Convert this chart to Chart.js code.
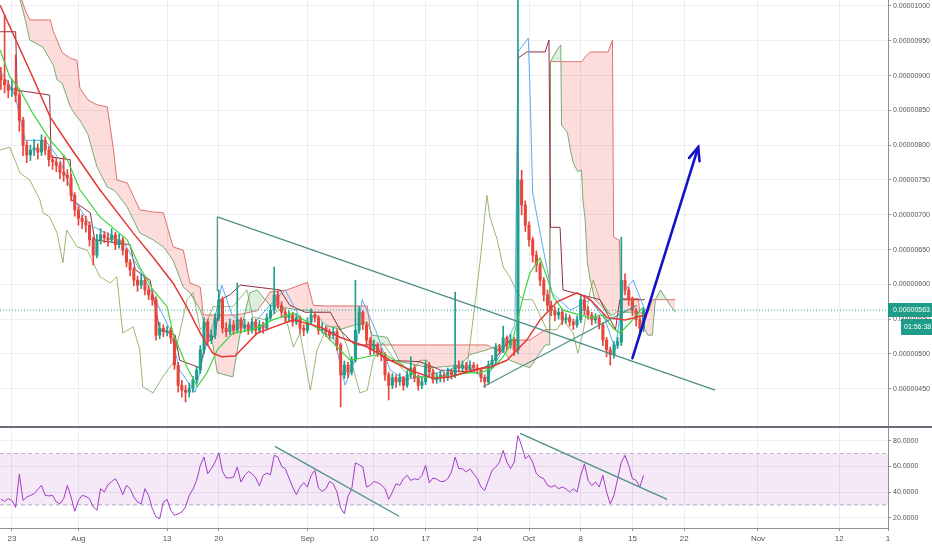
<!DOCTYPE html>
<html>
<head>
<meta charset="utf-8">
<script src="https://cdn.jsdelivr.net/npm/chart.js@4.4.1/dist/chart.umd.min.js"></script>
<style>
  html, body { margin: 0; padding: 0; background: #fff; }
  #wrap { position: relative; width: 932px; height: 550px; overflow: hidden; }
  #priceCanvas { position: absolute; left: 0; top: 0; }
  #rsiCanvas { position: absolute; left: 0; top: 427px; }
  #sep { position: absolute; left: 0; top: 426px; width: 932px; height: 2px; background: #6b6e76; }
</style>
</head>
<body>
<div id="wrap">
  <canvas id="priceCanvas" width="932" height="427"></canvas>
  <canvas id="rsiCanvas" width="932" height="123"></canvas>
  <div id="sep"></div>
</div>
<script>
// prices are in units of 1e-8 (563 -> 0.00000563), days count from Jul 23
const tickDays = [0, 9, 21, 28, 40, 49, 56, 63, 70, 77, 84, 91, 101, 112, 118.6];
const tickLabels = ['23', 'Aug', '13', '20', 'Sep', '10', '17', '24', 'Oct', '8', '15', '22', 'Nov', '12', '1'];
const priceTicks = [450, 500, 550, 600, 650, 700, 750, 800, 850, 900, 950, 1000];
const rsiTicks = [20, 40, 60, 80];
const lastPrice = 563;
const countdown = '01:56:38';

// 12h candles, first one at Jul 21 12:00
const firstCandleDay = -1.5;
const candleStep = 0.5;
const firstOpen = 900;
const closes = [894,887,879,882,872,836,800,786,793,796, 790,807,793,779,776,771,761,757,753,728,
  707,695,690,685,664,642,664,671,667,664, 671,657,664,649,632,621,606,599,606,592,
  585,578,527,537,532,534,523,484,455,448, 445,451,463,477,506,546,520,527,552,578,
  537,532,542,534,549,537,542,534,546,534, 542,537,552,563,585,570,560,552,556,546,
  552,537,534,546,556,552,534,537,532,527, 532,513,470,484,474,491,534,560,542,520,
  506,513,503,499,470,455,466,460,466,455, 470,480,466,455,460,484,474,463,466,470,
  466,474,470,484,480,484,477,484,480,477, 466,460,484,491,509,506,523,513,520,506,
  750,714,685,664,642,628,606,585,570,563, 556,560,549,552,546,542,549,578,563,556,
  549,552,542,520,506,499,513,517,606,592, 578,563,549,537,563];
const highs = [912,987,893,895,930,878,840,806,800,808, 802,815,812,798,785,782,776,786,765,758,
  732,712,700,698,690,668,672,680,676,674, 680,675,672,668,652,636,625,612,615,610,
  598,590,582,545,542,540,538,526,488,462, 455,458,468,482,512,552,550,535,558,592,
  582,545,550,548,602,552,550,546,552,550, 548,546,558,570,625,590,575,565,562,560,
  558,555,542,552,565,560,555,545,540,536, 538,535,516,490,488,496,606,568,562,545,
  524,520,516,508,502,474,472,470,472,468, 476,496,484,470,466,490,488,478,472,476,
  474,480,478,589,490,490,488,490,488,485, 480,470,490,498,515,514,540,526,528,524,
  1360,764,720,690,668,648,632,610,592,576, 568,566,564,558,556,550,555,585,582,568,
  560,558,556,545,524,510,518,524,668,615, 596,582,566,552,566];
const lows = [880,875,868,870,862,820,785,775,778,785, 780,785,786,770,765,762,752,748,742,720,
  698,685,680,675,655,628,638,658,660,655, 660,650,652,642,625,612,598,590,594,585,
  578,570,520,522,525,526,515,478,445,438, 431,438,445,458,472,500,512,515,522,548,
  530,525,528,528,530,530,532,528,530,528, 530,530,534,548,558,565,552,545,546,540,
  542,530,526,530,542,546,528,530,525,520, 522,505,424,465,466,470,488,530,535,512,
  498,500,496,490,462,434,450,452,455,448, 452,466,460,448,450,456,468,458,458,460,
  460,462,464,466,474,476,472,474,474,472, 460,452,456,480,486,500,502,506,508,498,
  500,700,676,655,632,618,598,576,562,555, 548,550,542,544,540,535,538,545,556,550,
  542,544,536,512,496,484,494,508,512,585, 570,555,540,530,532];
const rsi = [34.5,32.7,34.8,33.5,28,54,33.5,36.1,37.4,38.7, 42,45.2,37.4,37,37.4,32.2,30.9,34.8,45.2,36.1,
  25,33.5,37.4,36.6,34.8,28.4,25.8,42.6,40,45.7, 48.3,50.4,45.2,37.9,45.2,42.6,36.1,32.2,30.9,42.6,
  37.4,27.1,20.6,19.3,32.2,34.3,25.8,21.9,23,24.5, 28.4,37.4,42.1,49.1,60.8,67.3,54.3,58.2,63.3,70.6,
  56.1,51,51,51.7,59.5,47.8,53,56.1,54.3,51, 44.7,53,54.8,53.5,68.6,67.3,60.2,58.2,51,43.9,
  37.9,43.9,47.3,43.9,53,56.9,43.1,40.5,42.6,48.3, 46.5,40,27.6,23.2,36.9,42.6,62.8,61.3,59.5,43.9,
  45.2,48.3,47.3,45.7,42.6,34.3,40,46.5,45.2,50.4, 53,49.1,50.4,49.6,53,60.8,47.3,51,50,48.3,
  48.3,50.4,55.6,67.3,58.2,58.2,55.6,58.2,54.3,50.4, 43.9,41.3,49.1,56.9,59.5,63.3,72.4,63.3,58.2,63.3,
  84,76.1,65.9,68.6,63.3,54.3,51.7,50.4,45.2,43.9, 45.2,42.6,43.9,42.6,40,42.6,40,53,62,49.1,
  45.2,47.8,43.9,53,40,30.9,37.4,50.4,63.3,68.6, 60.8,50.4,49.1,43.9,53];

// moving averages
const redMaDays = [-1.6,2.8,5.2,7.9,11.9,16.4,19.1,21.8,23.7,25.5,27.2,28.4,30.2,33.2,38.1,41.7,44.4,
  48.1,51.2,53.9,57.0,59.3,62.4,64.7,67.0,69.7,71.5,73.8,76.5,78.3,80.6,83.0,85.7];
const redMa = [1001,898,840,797,736,674,639,602,567,530,501,496,497,530,549,539,524,
  510,491,477,465,467,477,481,491,520,549,575,588,578,552,549,556];
const greenMaDays = [-1.6,-0.3,1.1,2.8,5.2,7.5,9.2,11.9,15.6,17.3,19.1,21.0,21.8,23.7,25.1,26.4,27.8,29.9,
  32.6,35.3,38.1,39.0,41.7,44.4,45.8,48.1,50.2,52.5,54.8,57.0,59.3,61.6,63.4,65.1,66.5,67.8,69.2,70.1,
  71.5,72.4,73.3,74.6,76.9,78.3,80.0,81.4,82.3,83.7,85.4];
const greenMa = [937,898,879,846,807,779,736,697,664,625,592,568,530,481,453,473,506,530,
  535,549,559,552,535,506,491,496,501,487,467,466,467,473,473,480,496,520,582,616,
  638,611,582,563,556,552,556,537,530,545,567];

// ichimoku
const tenkanDays = [-1.6,0.4,1.8,4.5,6.5,8.5,10.6,13.3,15.3,17.3,19.4,21.4,22.7,24.8,26.1,27.5,28.4,29.8,
  32.2,34.9,37.0,39.0,41.7,43.7,45.1,46.4,47.4,49.2,51.2,53.2,56.6,60.0,62.0,64.1,66.1,68.1,68.5,69.9,
  70.1,70.5,71.5,72.4,73.1,75.6,78.3,80.3,81.7,82.7,84.1,85.7];
const tenkan = [908,872,807,807,779,721,685,671,657,621,578,535,477,445,506,552,599,556,
  537,570,592,552,535,520,455,491,578,535,477,463,470,480,480,463,499,542,934,954,
  889,731,674,625,588,563,578,549,506,588,606,563];
const kijunDays = [-1.6,0.5,0.7,5.1,5.3,7.9,8.1,10.6,11.2,16.0,16.7,18.7,20.0,22.1,22.7,25.5,26.1,27.5,
  28.2,29.5,30.9,36.3,37.6,39.7,43.1,44.4,46.4,49.2,50.5,55.2,58.0,62.0,64.7,67.4,68.4,68.5,69.7,72.2,
  72.7,72.9,74.2,74.6,79.6,81.7,82.3,85.7];
const kijun = [963,963,879,872,783,779,721,703,664,657,621,606,535,527,491,480,513,527,
  578,585,599,592,570,560,560,535,513,513,491,489,477,474,484,520,520,925,934,934,
  951,682,682,592,578,535,578,578];
const laggingDays = [-1.6,-0.3,1.1,2.4,3.8,4.2,5.1,6.1,6.9,7.4,8.8,10.2,11.9,13.3,14.2,15.0,16.4,17.3,17.7,
  19.1,20.4,21.8,22.7,23.7,24.5,25.5,26.4,27.2,29.9,31.8,32.6,34.5,36.7,38.1,39.0,40.4,41.3,42.7,44.4,
  45.4,47.1,48.1,48.9,50.2,52.1,53.9,55.2,56.2,57.9,59.7,61.6,62.3,63.4,64.3,64.7,65.7,66.5,67.4,68.4,
  69.2,70.5,72.4,73.8,74.6,76.0,76.6,77.3,78.3,78.7,79.6,80.6,81.2];
const lagging = [793,797,760,750,721,703,697,674,631,678,654,649,611,602,611,530,539,506,453,
  444,467,487,530,578,588,535,545,568,568,592,553,549,568,510,530,448,506,539,539,
  510,444,448,491,516,487,467,491,491,463,481,481,539,635,728,697,664,625,611,588,
  578,578,535,535,549,530,501,530,592,606,578,563,552];
const cloudDays = [-1.6,1.1,1.8,2.4,4.2,5.2,5.6,6.1,6.8,7.9, 8.8,9.2,10.3,11.5,12.9,13.7,14.2,15.6,17.3,19.1,
  20.5,21.8,23.2,24.1,25.5,25.9,27.2,27.8,29.9,30.9, 32.2,33.2,34.3,34.9,37.2,39.0,40.0,40.8,42.4,44.4,
  46.5,48.1,48.8,50.8,52.5,56.6,60.7,62.0,64.3,66.1, 67.4,70.1,72.2,72.8,72.9,73.8,74.3,74.4,75.2,75.6,
  76.0,76.6,77.1,77.3,77.6,77.9,78.3,78.9,79.9,80.7, 81.3,81.45,82.1,82.25,82.4,84.8,85.0,86.1,86.7,87.1,
  87.8,88.4,89.1,89.8];
const spanA = [1016,1009,980,951,941,922,915,894,889,855, 840,836,815,769,740,736,731,711,674,664,
  654,635,596,588,563,549,513,473,467,530, 588,592,578,570,566,563,563,560,542,535,
  542,546,527,524,489,480,484,499,506,513, 491,480,513,513,920,937,944,829,818,793,
  774,762,764,721,693,631,606,578,568,559, 556,556,563,560,560,560,549,527,527,578,
  592,582,570,560];
const spanB = [1023,1016,994,980,980,980,963,951,933,925, 922,882,865,858,855,797,750,746,707,704,
  703,654,649,602,596,556,556,556,556,557, 560,562,578,589,592,599,603,570,569,569,
  569,569,513,513,513,513,513,513,513,503, 520,520,535,535,920,920,920,920,920,920,
  920,920,920,922,927,930,934,934,934,934, 951,668,664,664,580,580,559,559,578,578,
  578,578,578,578];

// drawings
const trendDownDays = [27.8, 95.2], trendDown = [697, 448];
const trendSideDays = [27.8, 27.8], trendSide = [697, 590];
const trendUpDays = [63.8, 84.6], trendUp = [453, 570];
const arrowDays = [84.0, 92.9], arrowVals = [494, 797];
const rsiTrend1Days = [35.6, 52.4], rsiTrend1 = [75.6, 21.1];
const rsiTrend2Days = [68.8, 88.7], rsiTrend2 = [85.7, 34.3];

const X_MIN = -1.62, X_MAX = 118.6;
const PRICE_MIN = 395.1, PRICE_MAX = 1008.6;
const RSI_MIN = 12, RSI_MAX = 90.7;
const AXIS_W = 44;
const FONT = "'Liberation Sans', 'DejaVu Sans', sans-serif";
const GRID = '#eceef3';
const AXIS = '#8d9098';
const UP = '#1f9e8b', DOWN = '#e8453c';
const TEAL_LINE = '#4b8f84';

function pts(days, vals) {
  return days.map((d, i) => ({ x: d, y: vals[i] }));
}
function line(days, vals, color, width, extra) {
  return Object.assign({
    type: 'line', data: pts(days, vals), borderColor: color, borderWidth: width,
    pointRadius: 0, fill: false, tension: 0
  }, extra || {});
}

const candleDays = closes.map((c, i) => firstCandleDay + i * candleStep);
const opens = closes.map((c, i) => i === 0 ? firstOpen : closes[i - 1]);
const candleColors = closes.map((c, i) => c >= opens[i] ? UP : DOWN);

const xTicks = s => { s.ticks = tickDays.map(v => ({ value: v })); };
const noPad = s => { s.paddingTop = 0; s.paddingBottom = 0; s.paddingLeft = 0; s.paddingRight = 0; };

const priceTag = {
  id: 'priceTag',
  afterDatasetsDraw(chart) {
    // arrow head on the blue arrow
    const meta = chart.getDatasetMeta(0);
    const a = meta.data[0], b = meta.data[1];
    const ang = Math.atan2(b.y - a.y, b.x - a.x);
    const ctx = chart.ctx;
    ctx.save();
    ctx.strokeStyle = '#1212c8';
    ctx.lineWidth = 2.6;
    ctx.lineCap = 'round';
    ctx.beginPath();
    ctx.moveTo(b.x - 14 * Math.cos(ang - 0.4), b.y - 14 * Math.sin(ang - 0.4));
    ctx.lineTo(b.x, b.y);
    ctx.lineTo(b.x - 14 * Math.cos(ang + 0.4), b.y - 14 * Math.sin(ang + 0.4));
    ctx.stroke();
    ctx.restore();
  },
  afterDraw(chart) {
    const { ctx, chartArea } = chart;
    const py = Math.round(chart.scales.y.getPixelForValue(lastPrice));
    ctx.save();
    ctx.fillStyle = '#1f9c88';
    ctx.fillRect(chartArea.right, py - 7, 932 - chartArea.right, 14);
    ctx.fillRect(chartArea.right + 13, py + 9, 932 - chartArea.right - 13, 16);
    ctx.fillStyle = '#ffffff';
    ctx.font = '7px ' + FONT;
    ctx.textBaseline = 'middle';
    ctx.fillText((lastPrice * 1e-8).toFixed(8), chartArea.right + 5, py + 0.5);
    ctx.fillText(countdown, chartArea.right + 16, py + 17);
    ctx.restore();
  }
};

new Chart(document.getElementById('priceCanvas'), {
  type: 'line',
  data: {
    datasets: [
      line(arrowDays, arrowVals, '#1212c8', 2.6, { order: 0, borderCapStyle: 'round' }),
      line(trendDownDays, trendDown, TEAL_LINE, 1.2, { order: 1 }),
      line(trendSideDays, trendSide, TEAL_LINE, 1.2, { order: 1 }),
      line(trendUpDays, trendUp, TEAL_LINE, 1.2, { order: 1 }),
      line([X_MIN, X_MAX], [lastPrice, lastPrice], '#26a69a', 1, { order: 1, borderDash: [1, 2] }),
      line(redMaDays, redMa, '#e53935', 1.5, { order: 2 }),
      line(greenMaDays, greenMa, '#3fd23f', 1.2, { order: 2 }),
      {
        type: 'bar', data: candleDays.map((d, i) => ({ x: d, y: [opens[i], closes[i]] })),
        backgroundColor: candleColors, barThickness: 2.4, grouped: false, minBarLength: 1, order: 3
      },
      {
        type: 'bar', data: candleDays.map((d, i) => ({ x: d, y: [lows[i], highs[i]] })),
        backgroundColor: candleColors, barThickness: 1, grouped: false, order: 4
      },
      line(tenkanDays, tenkan, '#5aaaf0', 1, { order: 5 }),
      line(kijunDays, kijun, '#8e2f3c', 1, { order: 5 }),
      line(laggingDays, lagging, 'rgba(120,160,70,0.75)', 1, { order: 6 }),
      line(cloudDays, spanA, 'rgba(96,160,96,0.85)', 1, {
        order: 7,
        fill: { target: '+1', above: 'rgba(76,175,80,0.2)', below: 'rgba(244,67,54,0.18)' }
      }),
      line(cloudDays, spanB, '#e57373', 1, { order: 7 })
    ]
  },
  options: {
    responsive: false,
    animation: false,
    layout: { padding: 0 },
    plugins: { legend: { display: false }, tooltip: { enabled: false } },
    scales: {
      x: {
        type: 'linear', min: X_MIN, max: X_MAX, offset: false,
        afterBuildTicks: xTicks,
        afterFit: s => { s.height = 0; noPad(s); },
        ticks: { display: false },
        grid: { color: GRID, drawTicks: false, offset: false },
        border: { display: false }
      },
      y: {
        position: 'right', min: PRICE_MIN, max: PRICE_MAX,
        afterBuildTicks: s => { s.ticks = priceTicks.map(v => ({ value: v })); },
        afterFit: s => { s.width = AXIS_W; noPad(s); },
        ticks: {
          callback: v => (v * 1e-8).toFixed(8),
          font: { family: FONT, size: 7 }, color: '#555', padding: 2, autoSkip: false
        },
        grid: { color: GRID, tickColor: AXIS, tickLength: 3 },
        border: { color: AXIS }
      }
    }
  },
  plugins: [priceTag]
});

new Chart(document.getElementById('rsiCanvas'), {
  type: 'line',
  data: {
    datasets: [
      line(rsiTrend1Days, rsiTrend1, TEAL_LINE, 1.2, { order: 0 }),
      line(rsiTrend2Days, rsiTrend2, TEAL_LINE, 1.2, { order: 0 }),
      line(candleDays, rsi, '#a13bc7', 1, { order: 1 }),
      line([X_MIN, X_MAX], [70, 70], '#b8b5c4', 1, {
        order: 2, borderDash: [4, 3], fill: { target: '+1', above: 'rgba(156,39,176,0.1)', below: 'rgba(156,39,176,0.1)' }
      }),
      line([X_MIN, X_MAX], [30, 30], '#b8b5c4', 1, { order: 2, borderDash: [4, 3] })
    ]
  },
  options: {
    responsive: false,
    animation: false,
    layout: { padding: 0 },
    plugins: { legend: { display: false }, tooltip: { enabled: false } },
    scales: {
      x: {
        type: 'linear', min: X_MIN, max: X_MAX, offset: false,
        afterBuildTicks: xTicks,
        afterFit: s => { s.height = 22; noPad(s); },
        ticks: {
          autoSkip: false, maxRotation: 0, padding: 3,
          callback: v => tickLabels[tickDays.findIndex(t => Math.abs(t - v) < 1e-6)],
          font: { family: FONT, size: 8 }, color: '#555'
        },
        grid: { color: GRID, tickColor: AXIS, tickLength: 3 },
        border: { color: AXIS }
      },
      y: {
        position: 'right', min: RSI_MIN, max: RSI_MAX,
        afterBuildTicks: s => { s.ticks = rsiTicks.map(v => ({ value: v })); },
        afterFit: s => { s.width = AXIS_W; noPad(s); },
        ticks: {
          callback: v => v.toFixed(4),
          font: { family: FONT, size: 7 }, color: '#555', padding: 2
        },
        grid: { color: GRID, tickColor: AXIS, tickLength: 3 },
        border: { color: AXIS }
      }
    }
  }
});
</script>
</body>
</html>
